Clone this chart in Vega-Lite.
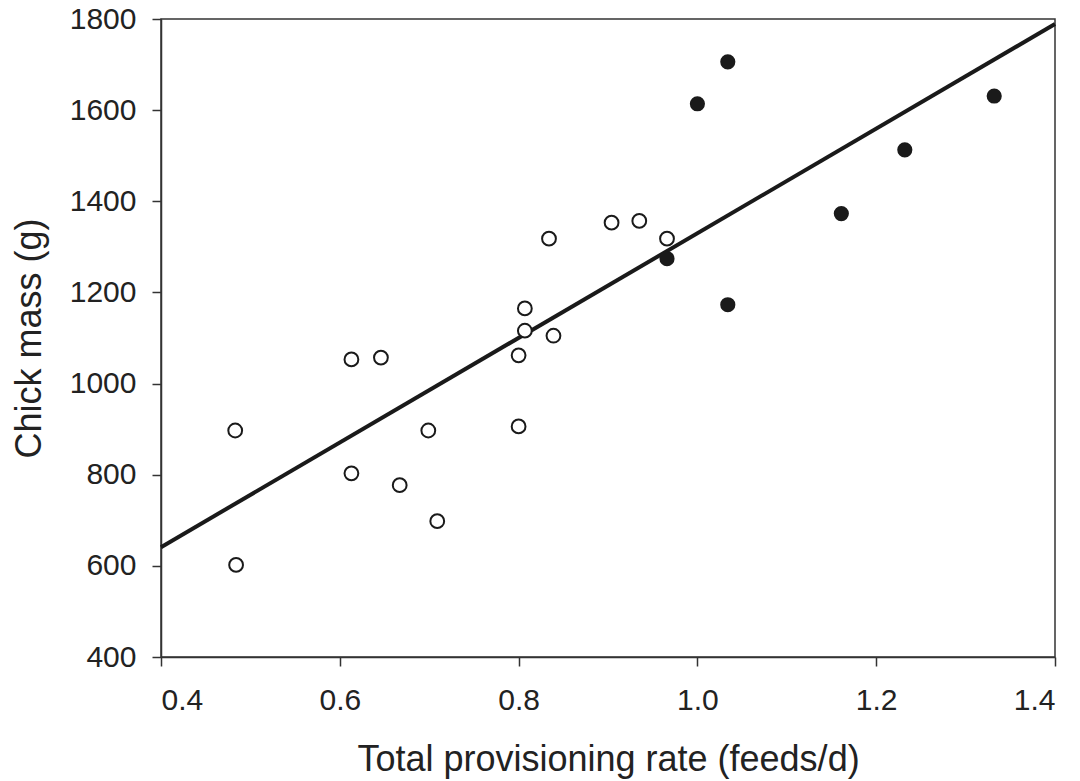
{
  "$schema": "https://vega.github.io/schema/vega-lite/v6.json",
  "autosize": "none",
  "width": 894,
  "height": 638,
  "padding": {"left": 161, "top": 19, "right": 25, "bottom": 124},
  "background": "white",
  "config": {
    "view": {"stroke": "#333333", "strokeWidth": 1.5},
    "font": "Liberation Sans",
    "axis": {
      "grid": false,
      "domainColor": "#333333",
      "domainWidth": 1.5,
      "tickColor": "#333333",
      "tickWidth": 1.5,
      "tickSize": 9,
      "labelFont": "Liberation Sans",
      "labelFontSize": 30,
      "labelColor": "#222222",
      "titleFont": "Liberation Sans",
      "titleFontSize": 36,
      "titleFontWeight": "normal",
      "titleColor": "#222222"
    }
  },
  "datasets": {
    "points": [
      {"rate": 0.483, "mass": 897, "group": "open"},
      {"rate": 0.484, "mass": 602, "group": "open"},
      {"rate": 0.613, "mass": 1053, "group": "open"},
      {"rate": 0.613, "mass": 803, "group": "open"},
      {"rate": 0.646, "mass": 1057, "group": "open"},
      {"rate": 0.667, "mass": 777, "group": "open"},
      {"rate": 0.699, "mass": 897, "group": "open"},
      {"rate": 0.709, "mass": 698, "group": "open"},
      {"rate": 0.800, "mass": 1062, "group": "open"},
      {"rate": 0.800, "mass": 906, "group": "open"},
      {"rate": 0.807, "mass": 1165, "group": "open"},
      {"rate": 0.807, "mass": 1116, "group": "open"},
      {"rate": 0.839, "mass": 1105, "group": "open"},
      {"rate": 0.834, "mass": 1318, "group": "open"},
      {"rate": 0.904, "mass": 1353, "group": "open"},
      {"rate": 0.935, "mass": 1357, "group": "open"},
      {"rate": 0.966, "mass": 1318, "group": "open"},
      {"rate": 0.966, "mass": 1274, "group": "filled"},
      {"rate": 1.000, "mass": 1614, "group": "filled"},
      {"rate": 1.034, "mass": 1706, "group": "filled"},
      {"rate": 1.034, "mass": 1173, "group": "filled"},
      {"rate": 1.161, "mass": 1373, "group": "filled"},
      {"rate": 1.232, "mass": 1513, "group": "filled"},
      {"rate": 1.332, "mass": 1631, "group": "filled"}
    ],
    "fit": [
      {"rate": 0.4, "mass": 641},
      {"rate": 1.4, "mass": 1789}
    ]
  },
  "layer": [
    {
      "data": {"name": "fit"},
      "mark": {"type": "line", "color": "#1a1a1a", "strokeWidth": 4},
      "encoding": {
        "x": {"field": "rate", "type": "quantitative",
              "scale": {"domain": [0.4, 1.4], "nice": false, "zero": false},
              "axis": {"values": [0.4, 0.6, 0.8, 1.0, 1.2, 1.4], "format": ".1f", "title": "Total provisioning rate (feeds/d)", "labelPadding": 19, "titlePadding": 27}},
        "y": {"field": "mass", "type": "quantitative",
              "scale": {"domain": [400, 1800], "nice": false, "zero": false},
              "axis": {"values": [400, 600, 800, 1000, 1200, 1400, 1600, 1800], "format": "d", "title": "Chick mass (g)", "labelPadding": 16, "titlePadding": 21}}
      }
    },
    {
      "data": {"name": "points"},
      "transform": [{"filter": "datum.group === 'open'"}],
      "mark": {"type": "point", "shape": "circle", "filled": true, "fill": "white", "stroke": "#1a1a1a", "strokeWidth": 2, "size": 190, "opacity": 1},
      "encoding": {
        "x": {"field": "rate", "type": "quantitative"},
        "y": {"field": "mass", "type": "quantitative"}
      }
    },
    {
      "data": {"name": "points"},
      "transform": [{"filter": "datum.group === 'filled'"}],
      "mark": {"type": "circle", "color": "#1a1a1a", "size": 230, "opacity": 1},
      "encoding": {
        "x": {"field": "rate", "type": "quantitative"},
        "y": {"field": "mass", "type": "quantitative"}
      }
    }
  ]
}
